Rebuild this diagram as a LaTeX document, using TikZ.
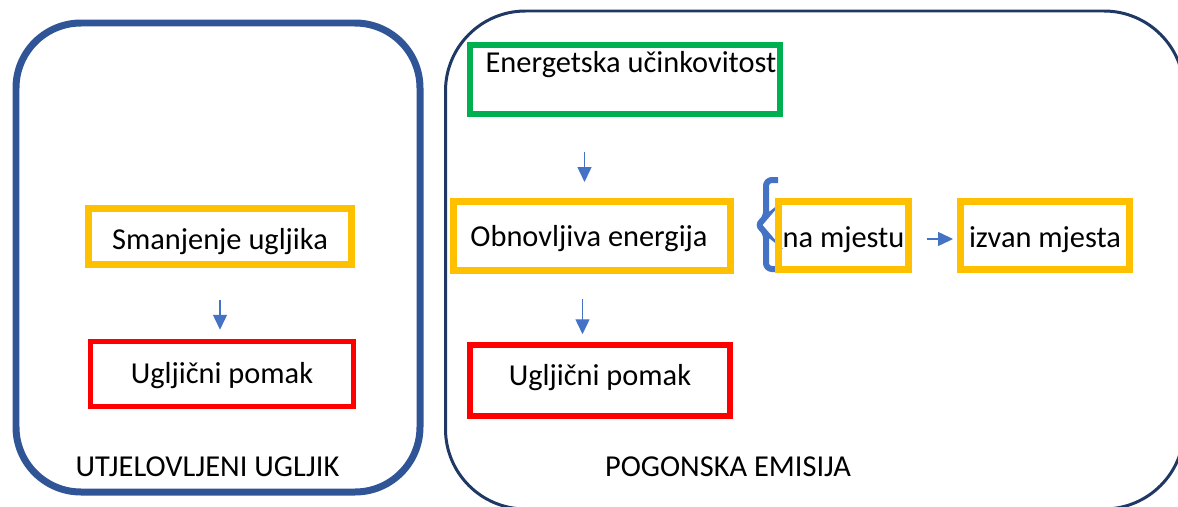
\documentclass[tikz,border=0pt]{standalone}
\usepackage{fontspec}
\setmainfont{Carlito}
\usetikzlibrary{arrows.meta}
\definecolor{frameblue}{HTML}{2F5597}
\definecolor{framenavy}{HTML}{1F3864}
\definecolor{arrowblue}{HTML}{4472C4}
\definecolor{boxyellow}{HTML}{FFC000}
\definecolor{boxgreen}{HTML}{00B050}
\definecolor{boxred}{HTML}{FF0000}
\tikzset{
  txt/.style={font=\fontsize{17.3}{20}\selectfont},
  box/.style={txt, draw, inner sep=0pt, text height=0.8cm},
  ybox/.style={box, draw=boxyellow, line width=0.14cm},
  rbox/.style={box, draw=boxred, line width=0.11cm},
  gbox/.style={box, draw=boxgreen, line width=0.13cm},
  arr/.style={draw=arrowblue, line width=0.8pt, -{Triangle[length=0.3cm,width=0.28cm]}},
  brc/.style={draw=arrowblue, line width=0.12cm, rounded corners=0.12cm}
}
\begin{document}
\begin{tikzpicture}[x=0.02cm,y=-0.02cm]
  \useasboundingbox (0,0) rectangle (1178,507);
  \clip (0,0) rectangle (1178,507);

  % Drawing frame of embodied carbon
  \draw [frameblue, line width=0.14cm, rounded corners=1.3cm] (16,23) rectangle (420,492);%

  % Drawing frame of operational emission
  \draw [framenavy, line width=0.06cm, rounded corners=1.6cm] (445.5,11) rectangle (1184,509);%

  % Drawing brace in front of on site
  \draw [brc] (778,180) -- (766,180) -- (766,218) -- (757,225)
    -- (766,232) -- (766,269) -- (778,269);%

  % Boxes of the left frame
  \node [ybox, minimum width=5.26cm, minimum height=1.13cm, text depth=0.27cm]
    (smanjenje) at (220,236.75) {Smanjenje ugljika};%
  \node [rbox, minimum width=5.26cm, minimum height=1.3cm, text depth=0.44cm]
    (pomakL) at (222,374) {Ugljični pomak};%

  % Boxes of the right frame
  \node [gbox, minimum width=6.2cm, minimum height=1.38cm,
    text height=0.55cm, text depth=0.83cm]
    (energetska) at (625,79.5) {\hspace*{0.24cm}Energetska učinkovitost};%
  \node [ybox, minimum width=5.56cm, minimum height=1.4cm, text depth=0.36cm]
    (obnovljiva) at (592,236) {Obnovljiva energija\hspace*{0.12cm}};%
  \node [rbox, minimum width=5.2cm, minimum height=1.42cm, text depth=0.62cm]
    (pomakR) at (600,380.5) {Ugljični pomak};%
  \node [ybox, minimum width=2.62cm, minimum height=1.38cm, text depth=0.3cm]
    (namjestu) at (843.5,235.5) {na mjestu};%
  \node [ybox, minimum width=3.4cm, minimum height=1.38cm, text depth=0.3cm]
    (izvan) at (1045,235.5) {izvan mjesta};%

  % Frame titles
  \node [txt] (utjelovljeni) at (207.5,467) {UTJELOVLJENI UGLJIK};%
  \node [txt] (pogonska) at (728,467) {POGONSKA EMISIJA};%

  % Drawing arrows
  \draw [arr, shorten <=0.63cm, shorten >=0.18cm]
    (smanjenje.south) -- (smanjenje.south |- pomakL.north);%
  \draw [arr, shorten <=0.7cm, shorten >=0.31cm]
    ([xshift=-0.15cm]obnovljiva.north |- energetska.south) -- ([xshift=-0.15cm]obnovljiva.north);%
  \draw [arr, shorten <=0.49cm, shorten >=0.16cm]
    ([xshift=-0.19cm]obnovljiva.south) -- ([xshift=-0.19cm]obnovljiva.south |- pomakR.north);%
  \draw [arr, shorten <=0.29cm, shorten >=0.07cm]
    ([yshift=-0.07cm]namjestu.east) -- ([yshift=-0.07cm]izvan.west);%
\end{tikzpicture}
\end{document}
